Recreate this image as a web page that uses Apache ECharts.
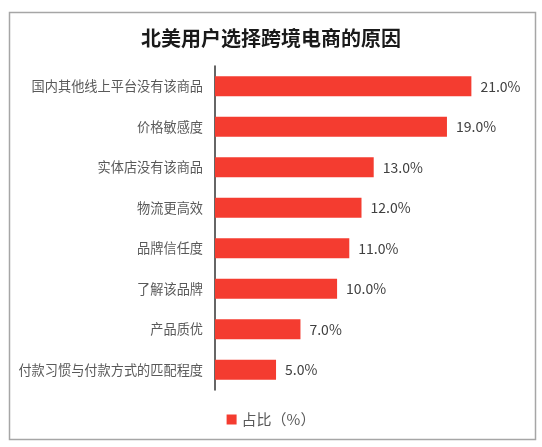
<!DOCTYPE html>
<html>
<head>
<meta charset="utf-8">
<script src="https://cdn.jsdelivr.net/npm/echarts@6/dist/echarts.min.js"></script>
<style>
  html, body { margin: 0; padding: 0; background: #fff; }
  #chart { width: 542px; height: 447px; }
</style>
</head>
<body>
<div id="chart"></div>
<script>
const categories = [
    '国内其他线上平台没有该商品',
    '价格敏感度',
    '实体店没有该商品',
    '物流更高效',
    '品牌信任度',
    '了解该品牌',
    '产品质优',
    '付款习惯与付款方式的匹配程度'
]
const shareValues = [21.0, 19.0, 13.0, 12.0, 11.0, 10.0, 7.0, 5.0]

const chart = echarts.init(document.getElementById('chart'))

chart.setOption({
    animation: false,
    textStyle: { fontFamily: '"Noto Sans CJK SC", "Noto Sans", sans-serif' },
    graphic: [{
        type: 'rect',
        shape: { x: 9.5, y: 12.5, width: 526, height: 427 },
        style: { fill: 'none', stroke: '#a6a6a6', lineWidth: 1.5 },
        silent: true
    }],
    title: {
        text: '北美用户选择跨境电商的原因',
        left: 'center',
        top: 23,
        textStyle: { fontSize: 20, fontWeight: 'bold', color: '#1a1a1a' }
    },
    legend: {
        bottom: 15,
        left: 'center',
        itemWidth: 10,
        itemHeight: 10,
        itemGap: 6,
        icon: 'rect',
        textStyle: { fontSize: 15, color: '#595959' },
        data: ['占比（%）']
    },
    grid: {
        left: 215,
        right: 34,
        top: 66,
        bottom: 57,
        containLabel: false
    },
    xAxis: {
        type: 'value',
        min: 0,
        max: 24,
        show: false
    },
    yAxis: {
        type: 'category',
        inverse: true,
        data: categories,
        axisLine: { lineStyle: { color: '#333', width: 1.5 } },
        axisTick: { show: false },
        axisLabel: { fontSize: 13.2, color: '#595959', margin: 12 }
    },
    series: [{
        name: '占比（%）',
        type: 'bar',
        data: shareValues,
        barWidth: 20,
        itemStyle: { color: '#f43c30' },
        label: {
            show: true,
            position: 'right',
            distance: 9,
            fontSize: 14,
            color: '#404040',
            formatter: p => p.value.toFixed(1) + '%'
        }
    }]
})
</script>
</body>
</html>
